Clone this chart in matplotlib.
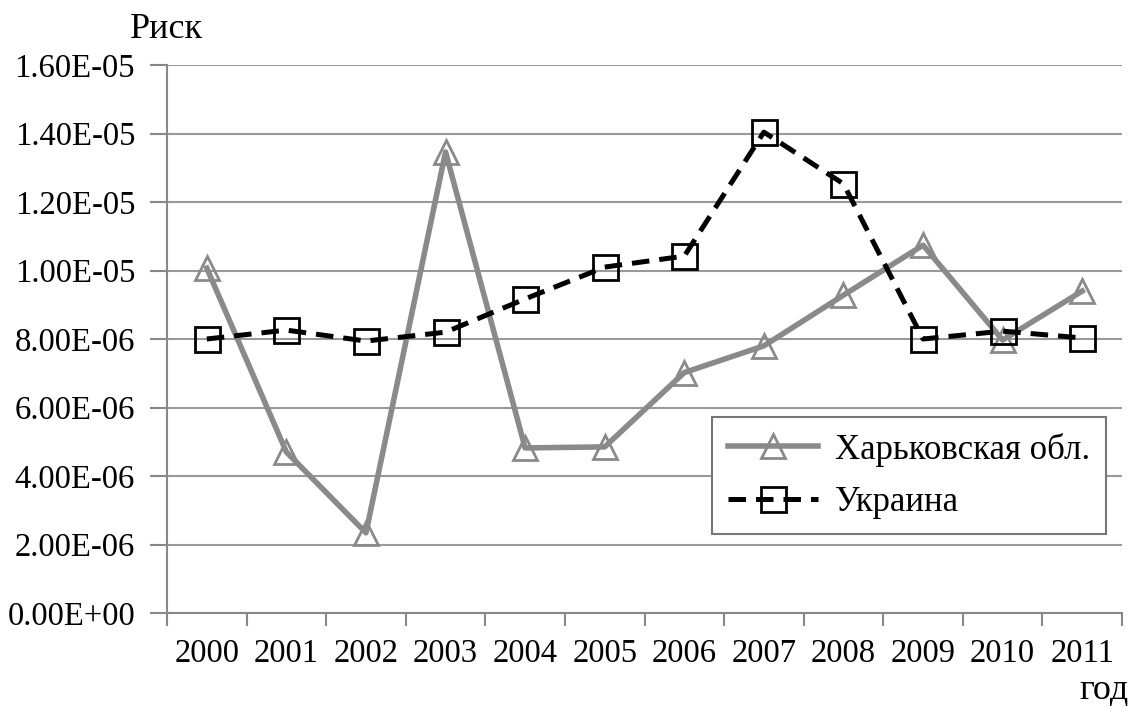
import matplotlib
matplotlib.use('Agg')
from matplotlib import pyplot as plt
from matplotlib.ticker import FuncFormatter, FixedLocator
import numpy as np

plt.rcParams['font.family'] = ['Liberation Serif', 'DejaVu Serif']

years = ['2000', '2001', '2002', '2003', '2004', '2005',
         '2006', '2007', '2008', '2009', '2010', '2011']
kharkiv = [10.07e-6, 4.70e-6, 2.34e-6, 13.46e-6, 4.82e-6, 4.85e-6,
           7.02e-6, 7.80e-6, 9.28e-6, 10.74e-6, 7.97e-6, 9.40e-6]
ukraine = [8.00e-6, 8.26e-6, 7.94e-6, 8.20e-6, 9.17e-6, 10.10e-6,
           10.42e-6, 14.04e-6, 12.53e-6, 8.00e-6, 8.23e-6, 8.03e-6]
y_ticks = [0, 2e-6, 4e-6, 6e-6, 8e-6, 10e-6, 12e-6, 14e-6, 16e-6]

W, H = 1136, 707
fig = plt.figure(figsize=(W / 100, H / 100), dpi=100)
ax = fig.add_axes([167 / W, (H - 613) / H, (1122 - 167) / W, (613 - 65) / H])

x = np.arange(len(years))
ax.plot(x, kharkiv, color='#8a8a8a', lw=4, marker='^', ms=17,
        mfc='none', mec='#8a8a8a', mew=2, label='Харьковская обл.', zorder=3)
ax.plot(x, ukraine, color='black', lw=3.6, ls=(0, (3.5, 2)), marker='s', ms=18,
        mfc='none', mec='black', mew=2, label='Украина', zorder=4)

ax.set_xlim(-0.5, len(years) - 0.5)
ax.set_ylim(0, 1.6e-5)

# category axis: ticks between categories, labels at centers
ax.xaxis.set_major_locator(FixedLocator(np.arange(-0.5, len(years), 1.0)))
ax.xaxis.set_minor_locator(FixedLocator(x))
ax.set_xticklabels([], minor=False)
ax.set_xticklabels(years, minor=True)
ax.tick_params(axis='x', which='major', length=9, width=1.5, color='#888888')
ax.tick_params(axis='x', which='minor', length=0, pad=18, labelsize=23.5)

ax.set_yticks(y_ticks)
ax.yaxis.set_major_formatter(FuncFormatter(lambda v, p: '{:.2E}'.format(v)))
ax.tick_params(axis='y', length=12, width=1.5, color='#888888', pad=11, labelsize=23.5)

ax.grid(axis='y', color='#999999', lw=1.5)
ax.set_axisbelow(True)
for s in ['top', 'right']:
    ax.spines[s].set_visible(False)
for s in ['left', 'bottom']:
    ax.spines[s].set_color('#888888')
    ax.spines[s].set_linewidth(1.5)

leg = ax.legend(loc='upper left', bbox_to_anchor=((712 - 167) / (1122 - 167), (613 - 417) / (613 - 65)),
                fontsize=25, fancybox=False, framealpha=1, edgecolor='#777777',
                borderaxespad=0, handlelength=2.6, borderpad=0.45, labelspacing=0.55,
                handletextpad=0.5)
leg.get_frame().set_linewidth(1.5)

fig.text(166 / W, 1 - 30 / H, 'Риск', fontsize=26, ha='center', va='center')
fig.text(1104 / W, 1 - 690 / H, 'год', fontsize=26, ha='center', va='center')

fig.savefig('out.png', dpi=100)
